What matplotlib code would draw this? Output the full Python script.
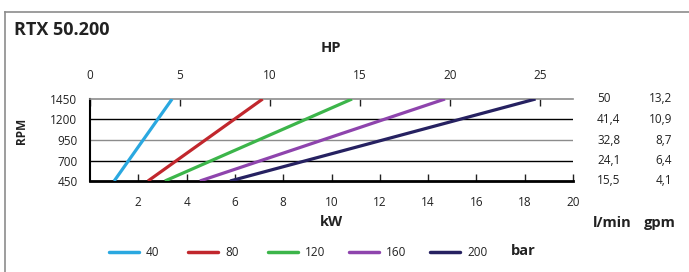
import matplotlib
matplotlib.use("Agg")
import matplotlib.pyplot as plt
from matplotlib.lines import Line2D
from matplotlib import transforms

plt.rcParams['font.family'] = ['Open Sans', 'DejaVu Sans']

# ---- data ----
rpm = [450, 1450]
pressures = ["40", "80", "120", "160", "200"]
kw_40 = [1.0, 3.4]
kw_80 = [2.4, 7.15]
kw_120 = [3.1, 10.85]
kw_160 = [4.55, 14.7]
kw_200 = [5.8, 18.45]
colors = ["#2aa8e0", "#c1272d", "#3cb54a", "#8e44ad", "#262161"]
rpm_ticks = [450, 700, 950, 1200, 1450]
lmin_labels = ["15,5", "24,1", "32,8", "41,4", "50"]
gpm_labels = ["4,1", "6,4", "8,7", "10,9", "13,2"]
kw_ticks = [2, 4, 6, 8, 10, 12, 14, 16, 18, 20]
hp_ticks = [0, 5, 10, 15, 20, 25]
KW_PER_HP = 0.7457

W, H = 689, 272
fig = plt.figure(figsize=(W / 100, H / 100), dpi=100)
TXT = "#222222"

def fx(px):
    return px / W

def fy(py):
    return 1 - py / H

# frame lines
fig.add_artist(Line2D([fx(5), 1.0], [fy(12), fy(12)], color="#8c8c8c", lw=1.2, transform=fig.transFigure))
fig.add_artist(Line2D([fx(5), fx(5)], [fy(12), 0.0], color="#8c8c8c", lw=1.2, transform=fig.transFigure))

ax = fig.add_axes([fx(90), fy(181), fx(573) - fx(90), fy(99) - fy(181)])
ax.set_xlim(0, 20)
ax.set_ylim(450, 1450)

series = [kw_40, kw_80, kw_120, kw_160, kw_200]
for vals, c, lab in zip(series, colors, pressures):
    ax.plot(vals, rpm, color=c, lw=2.3, solid_capstyle='butt', label=lab, zorder=3)

# grid lines
for y, c in [(700, "black"), (950, "#8c8c8c"), (1200, "black")]:
    ax.axhline(y, color=c, lw=1.0, zorder=1)

ax.spines["right"].set_visible(False)
ax.spines["top"].set_color("#8c8c8c")
ax.spines["top"].set_linewidth(1.2)
ax.spines["bottom"].set_linewidth(2.0)
ax.spines["left"].set_linewidth(1.5)

ax.set_yticks(rpm_ticks)
ax.set_yticklabels([str(v) for v in rpm_ticks])
ax.tick_params(axis='y', length=0, pad=9, labelsize=8.5, colors=TXT)
ax.set_xticks(kw_ticks)
ax.set_xticklabels([str(v) for v in kw_ticks])
ax.tick_params(axis='x', direction='in', length=5, width=1.0, pad=11, labelsize=8.5, colors=TXT)

# HP secondary axis
sec = ax.secondary_xaxis('top', functions=(lambda k: k / KW_PER_HP, lambda h: h * KW_PER_HP))
sec.set_xticks(hp_ticks)
sec.set_xticklabels([str(v) for v in hp_ticks])
sec.tick_params(direction='in', length=5, width=1.0, pad=12, labelsize=8.5, colors=TXT)
sec.spines["top"].set_visible(False)

# axis labels
fig.text(fx(331), fy(48), "HP", ha="center", va="center", fontsize=10.5, fontweight="bold", color=TXT)
fig.text(fx(331), fy(222), "kW", ha="center", va="center", fontsize=10.5, fontweight="bold", color=TXT)
fig.text(fx(21), fy(131), "RPM", ha="center", va="center", rotation=90, fontsize=8.5, fontweight="bold", color=TXT)
fig.text(fx(14), fy(30), "RTX 50.200", ha="left", va="center", fontsize=13, fontweight="bold", color=TXT)
fig.text(fx(612), fy(223), "l/min", ha="center", va="center", fontsize=10.5, fontweight="bold", color=TXT)
fig.text(fx(660), fy(223), "gpm", ha="center", va="center", fontsize=10.5, fontweight="bold", color=TXT)

# right side flow labels
trans = transforms.blended_transform_factory(fig.transFigure, ax.transData)
for y, a, b in zip(rpm_ticks, lmin_labels, gpm_labels):
    ax.text(fx(597), y, a, ha="left", va="center", fontsize=8.5, color=TXT, transform=trans, clip_on=False)
    ax.text(fx(672), y, b, ha="right", va="center", fontsize=8.5, color=TXT, transform=trans, clip_on=False)

# legend (manual placement)
leg_x = [109, 188, 268, 349, 430]
ly = fy(252)
for x0, c, lab in zip(leg_x, colors, pressures):
    fig.add_artist(Line2D([fx(x0), fx(x0 + 30)], [ly, ly], color=c, lw=2.5,
                          solid_capstyle='round', transform=fig.transFigure))
    fig.text(fx(x0 + 37), ly, lab, ha="left", va="center", fontsize=8.5, color=TXT)
fig.text(fx(511), fy(251), "bar", ha="left", va="center", fontsize=10.5, fontweight="bold", color=TXT)

fig.savefig("out.png", dpi=100)
